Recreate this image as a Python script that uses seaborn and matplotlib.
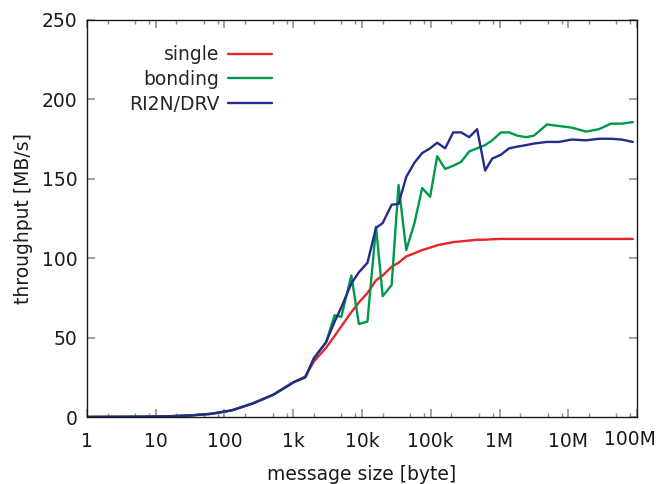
import matplotlib
matplotlib.use("Agg")
import matplotlib.pyplot as plt
import matplotlib.transforms as mtransforms
import pandas as pd
import seaborn as sns
from matplotlib.lines import Line2D
from matplotlib.ticker import FixedLocator, FixedFormatter, NullFormatter

# message sizes [byte]
sizes = [1, 2, 4, 8, 16, 32, 64, 128, 256, 512, 1024, 1500, 2000, 3000,
         4000, 5000, 7000, 9000, 12000, 16000, 20000, 27000, 34000, 44000,
         58000, 75000, 98000, 124000, 162000, 212000, 277000, 362000,
         473000, 618000, 781000, 1050000, 1380000, 1800000, 2430000,
         3180000, 4910000, 7330000, 11300000, 18100000, 27900000,
         41700000, 60000000, 87000000]

# throughput [MB/s]
single = [0.05, 0.1, 0.15, 0.25, 0.5, 1.0, 2.0, 4.2, 8.5, 14, 22, 25.5, 35,
          43.5, 51, 57, 66, 72, 78, 86, 89, 94.5, 97, 101, 103, 105, 106.5,
          108, 109, 110, 110.5, 111, 111.5, 111.5, 111.8, 112, 112, 112, 112,
          112, 112, 112, 112, 112, 112, 112, 112, 112]
bonding = [0.05, 0.1, 0.15, 0.25, 0.5, 1.0, 2.0, 4.2, 8.5, 14, 22, 25, 37,
           47, 64, 63, 89, 58.5, 60, 119.6, 76, 83, 146, 105, 122, 144,
           138.5, 164, 156, 158, 160.5, 167, 169, 171, 174, 179, 179, 177,
           176, 177, 184, 183, 182, 179.5, 181, 184.5, 184.5, 185.5]
ri2n = [0.05, 0.1, 0.15, 0.25, 0.5, 1.0, 2.0, 4.2, 8.5, 14, 22, 25, 37,
        47, 60, 69, 84, 91, 97, 119, 122, 133.5, 134, 151, 160, 166, 169,
        172.5, 169, 179, 179, 176, 181, 155, 162.5, 165, 169, 170, 171, 172,
        173, 173, 174.5, 174, 175, 175, 174.5, 173]

series = ["single", "bonding", "RI2N/DRV"]
colors = {"single": "#e8232b", "bonding": "#00994a", "RI2N/DRV": "#232b8c"}

xticks = [1, 10, 100, 1e3, 1e4, 1e5, 1e6, 1e7, 1e8]
xlabels = ["1", "10", "100", "1k", "10k", "100k", "1M", "10M", "100M"]

df = pd.DataFrame({
    "size": sizes * 3,
    "throughput": single + bonding + ri2n,
    "series": [s for s in series for _ in sizes],
})

sns.set_theme(style="ticks")
plt.rcParams["font.family"] = ["DejaVu Sans"]
fs = 13.5

fig = plt.figure(figsize=(6.61, 4.84), dpi=100)
ax = fig.add_axes([0.1316, 0.1384, 0.8321, 0.8213])

sns.lineplot(data=df, x="size", y="throughput", hue="series",
             hue_order=series, palette=colors, estimator=None,
             linewidth=1.7, legend=False, ax=ax)

ax.set_xscale("log")
ax.set_xlim(1, 1e8)
ax.set_ylim(0, 250)

minor = [m * d for d in xticks[:-1] for m in (2, 5, 8)]
ax.xaxis.set_major_locator(FixedLocator(xticks))
ax.xaxis.set_major_formatter(FixedFormatter(xlabels))
ax.xaxis.set_minor_locator(FixedLocator(minor))
ax.xaxis.set_minor_formatter(NullFormatter())
ax.set_yticks([0, 50, 100, 150, 200, 250])

ax.tick_params(which="both", direction="in", top=True, right=True,
               color="#8a8a8a", labelcolor="#1a1a1a", labelsize=fs)
ax.tick_params(which="major", length=6, width=1.1)
ax.tick_params(which="minor", length=3, width=1.0)
ax.tick_params(axis="x", pad=11)
ax.tick_params(axis="y", pad=7)

for sp in ax.spines.values():
    sp.set_color("#1a1a1a")
    sp.set_linewidth(1.0)

# last label sits left of its tick so it stays inside the figure
last = ax.get_xticklabels()[-1]
last.set_horizontalalignment("right")
last.set_transform(last.get_transform() +
                   mtransforms.ScaledTranslation(0.19, 0.02, fig.dpi_scale_trans))

ax.set_xlabel("message size [byte]", fontsize=fs, color="#1a1a1a", labelpad=10)
ax.set_ylabel("throughput [MB/s]", fontsize=fs, color="#1a1a1a", labelpad=6)

handles = [Line2D([], [], color=colors[s], linewidth=1.7) for s in series]
ax.legend(handles, series, loc="upper right", bbox_to_anchor=(0.336, 0.935),
          frameon=False, markerfirst=False, handlelength=2.35,
          handletextpad=0.45, labelspacing=0.3, borderpad=0,
          borderaxespad=0, fontsize=fs)

fig.savefig("out.png", dpi=100, facecolor="white")
